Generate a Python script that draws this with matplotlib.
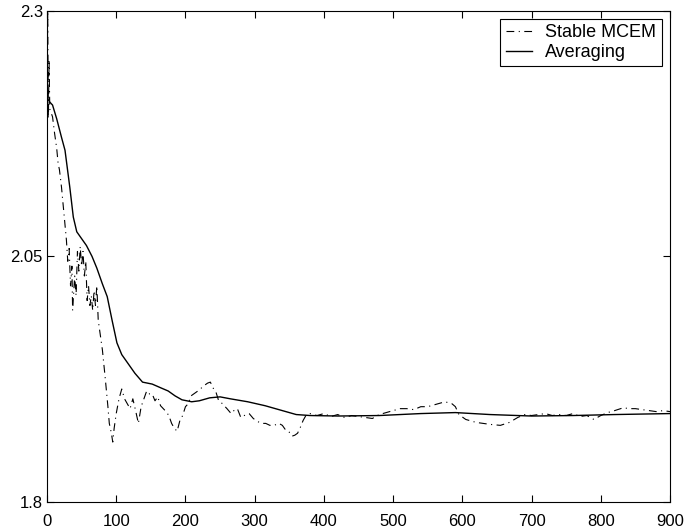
import matplotlib
matplotlib.use("Agg")
import matplotlib.pyplot as plt

plt.rcParams['font.family'] = ['Liberation Sans', 'DejaVu Sans']

# Stable MCEM (dash-dot)
mcem_x = [0, 1, 2, 3, 4, 6, 8, 11, 14, 16, 18, 21, 25, 28, 30, 32, 34, 36, 37, 40,
          42, 44, 46, 48, 50, 52, 54, 56, 58, 60, 62, 64, 66, 68, 70, 72, 74, 76, 80, 84,
          88, 90, 93, 95, 97, 100, 104, 108, 112, 116, 120, 124, 128, 132, 136, 140, 144, 148, 152, 156,
          160, 164, 168, 172, 176, 180, 184, 188, 192, 196, 200, 204, 208, 212, 216, 220, 226, 232, 236, 240,
          244, 248, 252, 256, 260, 266, 270, 275, 280, 285, 292, 298, 304, 310, 316, 322, 328, 335, 340, 345,
          350, 354, 358, 362, 366, 370, 374, 380, 390, 400, 410, 420, 430, 440, 450, 460, 470, 480, 490, 500,
          510, 520, 530, 540, 550, 560, 570, 575, 585, 590, 595, 605, 620, 630, 640, 655, 668, 680, 690, 700,
          710, 720, 730, 740, 750, 760, 770, 780, 790, 800, 810, 820, 833, 840, 850, 860, 870, 880, 890, 900]
mcem_y = [2.20, 2.30, 2.19, 2.25, 2.20, 2.196, 2.192, 2.175, 2.160, 2.145, 2.138, 2.120, 2.090, 2.067, 2.045, 2.058, 2.020, 2.040, 1.995, 2.030,
          2.010, 2.055, 2.035, 2.060, 2.040, 2.055, 2.030, 2.045, 2.005, 2.020, 2.000, 2.010, 1.995, 2.015, 2.000, 2.020, 1.985, 1.975, 1.955, 1.927,
          1.897, 1.880, 1.870, 1.861, 1.875, 1.890, 1.905, 1.915, 1.905, 1.900, 1.895, 1.905, 1.893, 1.880, 1.897, 1.905, 1.913, 1.910, 1.910, 1.903,
          1.907, 1.898, 1.895, 1.892, 1.888, 1.880, 1.875, 1.872, 1.883, 1.888, 1.897, 1.900, 1.908, 1.910, 1.912, 1.914, 1.918, 1.921, 1.922, 1.916,
          1.912, 1.903, 1.901, 1.898, 1.895, 1.890, 1.893, 1.895, 1.886, 1.888, 1.890, 1.885, 1.882, 1.880, 1.880, 1.878, 1.878, 1.880, 1.878, 1.873,
          1.871, 1.867, 1.868, 1.870, 1.876, 1.883, 1.888, 1.890, 1.888, 1.890, 1.887, 1.889, 1.886, 1.888, 1.887, 1.886, 1.885, 1.889, 1.891, 1.893,
          1.895, 1.895, 1.894, 1.897, 1.897, 1.899, 1.901, 1.902, 1.900, 1.897, 1.889, 1.884, 1.881, 1.880, 1.879, 1.878, 1.881, 1.886, 1.889, 1.888,
          1.889, 1.890, 1.888, 1.889, 1.888, 1.890, 1.887, 1.888, 1.884, 1.888, 1.891, 1.893, 1.896, 1.895, 1.895, 1.894, 1.893, 1.892, 1.893, 1.892]

# Averaging (solid)
avg_x = [0, 1, 4, 8, 14, 21, 26, 33, 38, 43, 50, 57, 65, 72, 80, 87, 94, 101, 108, 116,
         127, 138, 152, 165, 175, 185, 195, 209, 220, 235, 250, 265, 290, 315, 340, 360, 380, 420, 480, 540,
         590, 640, 700, 760, 820, 900]
avg_y = [2.25, 2.21, 2.207, 2.204, 2.19, 2.171, 2.158, 2.12, 2.09, 2.075, 2.068, 2.061, 2.05, 2.038, 2.022, 2.009, 1.985, 1.962, 1.950, 1.942,
         1.931, 1.922, 1.920, 1.916, 1.913, 1.908, 1.904, 1.902, 1.903, 1.906, 1.907, 1.905, 1.902, 1.898, 1.893, 1.889, 1.888, 1.8875, 1.888, 1.890,
         1.891, 1.889, 1.8875, 1.888, 1.889, 1.890]

x_ticks = [0, 100, 200, 300, 400, 500, 600, 700, 800, 900]
y_ticks = [1.8, 2.05, 2.3]
y_tick_labels = ['1.8', '2.05', '2.3']
series_names = ['Stable MCEM', 'Averaging']

fig = plt.figure(figsize=(6.84, 5.29), dpi=100)
ax = fig.add_axes([47.0 / 684, 1 - 502 / 529, (670 - 47.0) / 684, (502 - 10.7) / 529])

ax.plot(mcem_x, mcem_y, color='black', lw=0.8, linestyle=(0, (7, 4, 1, 4)), label=series_names[0])
ax.plot(avg_x, avg_y, color='black', lw=1.0, linestyle='-', label=series_names[1])

ax.set_xlim(0, 900)
ax.set_ylim(1.8, 2.3)
ax.set_xticks(x_ticks)
ax.set_xticklabels([str(v) for v in x_ticks])
ax.set_yticks(y_ticks)
ax.set_yticklabels(y_tick_labels)
ax.tick_params(direction='in', top=True, right=True, length=5, width=0.8,
               labelsize=12, colors='black')
ax.tick_params(axis='x', pad=9)
ax.tick_params(axis='y', pad=3)
for s in ax.spines.values():
    s.set_linewidth(0.8)

leg = ax.legend(loc='upper right', fontsize=13, frameon=True, fancybox=False,
                edgecolor='black', framealpha=1, handlelength=1.45,
                handletextpad=0.75, borderpad=0.3, labelspacing=0.15,
                borderaxespad=0.45)
leg.get_frame().set_linewidth(0.8)

fig.savefig('out.png', dpi=100)
